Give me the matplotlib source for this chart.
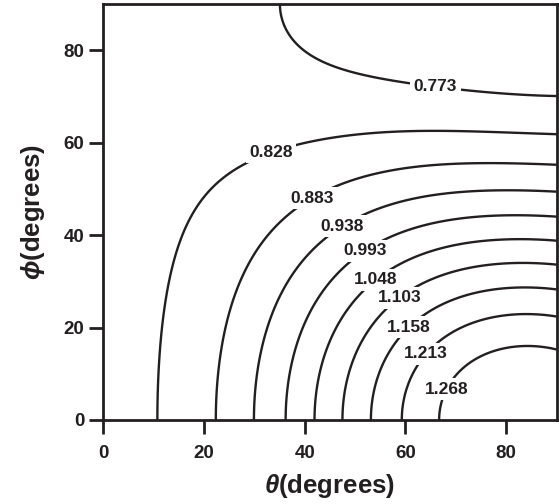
import numpy as np
import matplotlib
matplotlib.use("Agg")
import matplotlib.pyplot as plt

# ---- data (contour levels and points on each contour, degrees) ----
levels = [0.773, 0.828, 0.883, 0.938, 0.993, 1.048, 1.103, 1.158, 1.213, 1.268]

theta_0773 = [36.2, 36.6, 38.95, 42.3, 45.5, 52.1, 59.4, 71.2, 78.4, 90.0]
phi_0773 = [90.0, 86.5, 81.4, 78.6, 76.8, 74.4, 72.9, 71.4, 70.8, 70.1]

theta_0828 = [10.7, 11.0, 12.0, 13.6, 15.9, 20.5, 29.1, 38.95, 46.9, 52.1, 64.6, 90.0]
phi_0828 = [0.0, 10.8, 21.6, 32.4, 38.9, 48.3, 55.5, 59.5, 61.3, 61.6, 62.2, 61.8]

theta_0883 = [22.6, 22.8, 24.5, 27.1, 28.4, 30.4, 35.0, 39.6, 46.9, 58.0, 71.2, 90.0]
phi_0883 = [0.0, 10.8, 21.6, 30.3, 32.4, 36.8, 42.5, 45.8, 50.6, 54.4, 55.6, 55.1]

theta_0938 = [30.3, 30.5, 32.7, 37.0, 38.3, 40.3, 44.2, 53.4, 64.6, 77.8, 90.0]
phi_0938 = [0.0, 10.8, 21.6, 30.3, 32.4, 35.3, 38.9, 45.4, 49.0, 49.9, 49.5]

theta_0993 = [36.2, 36.5, 38.95, 44.9, 46.2, 48.8, 55.4, 64.6, 74.5, 90.0]
phi_0993 = [0.0, 10.8, 21.6, 29.9, 31.4, 33.9, 38.2, 42.5, 43.8, 44.0]

theta_1048 = [42.2, 43.2, 44.9, 46.9, 48.8, 51.5, 58.0, 67.9, 77.8, 90.0]
phi_1048 = [0.0, 10.8, 15.1, 19.5, 23.1, 27.4, 33.1, 37.5, 38.9, 38.9]

theta_1103 = [47.6, 48.8, 51.5, 54.1, 61.7, 64.6, 72.5, 84.4, 90.0]
phi_1103 = [0.0, 10.8, 18.0, 23.8, 28.8, 30.6, 32.4, 33.7, 33.6]

theta_1158 = [53.6, 54.7, 56.7, 59.0, 64.6, 71.2, 77.8, 90.0]
phi_1158 = [0.0, 10.8, 15.8, 18.0, 23.1, 26.3, 27.7, 28.3]

theta_1213 = [59.7, 60.3, 62.6, 65.9, 71.2, 77.8, 90.0]
phi_1213 = [0.0, 7.2, 11.5, 16.9, 20.9, 22.3, 22.7]

theta_1268 = [66.9, 67.6, 69.2, 73.2, 77.8, 83.0, 90.0]
phi_1268 = [0.0, 3.6, 8.6, 13.6, 15.3, 15.7, 15.1]

contour_points = [
    (theta_0773, phi_0773), (theta_0828, phi_0828), (theta_0883, phi_0883),
    (theta_0938, phi_0938), (theta_0993, phi_0993), (theta_1048, phi_1048),
    (theta_1103, phi_1103), (theta_1158, phi_1158), (theta_1213, phi_1213),
    (theta_1268, phi_1268),
]

xticks = [0, 20, 40, 60, 80]
yticks = [0, 20, 40, 60, 80]

# label anchor positions (layout)
label_pos = [(65.9, 71.5), (33.4, 57.8), (41.5, 47.9), (47.8, 41.4), (52.3, 36.0),
             (54.1, 30.3), (59.0, 26.1), (60.7, 20.0), (64.3, 14.1), (69.6, 5.9)]

# ---- build a smooth field through the read contour points ----
def basis(th_deg, ph_deg):
    t = np.radians(th_deg)
    p = np.radians(ph_deg)
    u = np.sin(t) ** 2 * np.cos(p) ** 2
    v = np.sin(t) ** 2 * np.sin(p) ** 2
    c = np.cos(t)
    return np.stack([np.ones_like(u), u, v, u * u, u * v, v * v,
                     u ** 3, u * u * v, u * v * v, v ** 3,
                     u * c, u * u * c], axis=-1)

th_all, ph_all, val_all = [], [], []
for lvl, (ths, phs) in zip(levels, contour_points):
    th_all += list(ths)
    ph_all += list(phs)
    val_all += [lvl] * len(ths)
A = basis(np.array(th_all), np.array(ph_all))
coef, *_ = np.linalg.lstsq(A, np.array(val_all), rcond=None)

th_grid = np.linspace(0, 90, 361)
ph_grid = np.linspace(0, 90, 361)
TH, PH = np.meshgrid(th_grid, ph_grid)
Z = basis(TH, PH) @ coef

# ---- plot ----
plt.rcParams["font.family"] = ["Liberation Sans", "DejaVu Sans"]
plt.rcParams["font.weight"] = "bold"
plt.rcParams["mathtext.fontset"] = "custom"
plt.rcParams["mathtext.it"] = "Liberation Sans:italic:bold"
plt.rcParams["mathtext.rm"] = "Liberation Sans:bold"

ink = "#231f20"
fig = plt.figure(figsize=(5.59, 5.04), dpi=100)
ax = fig.add_axes([103 / 559, 84 / 504, (556.7 - 103) / 559, (420 - 4) / 504])

cs = ax.contour(TH, PH, Z, levels=levels, colors=ink, linewidths=1.7, zorder=2)
texts = ax.clabel(cs, levels=levels, fmt={l: f"{l:.3f}" for l in levels}, manual=label_pos,
                  inline=False, fontsize=12.5, colors=ink)
for t in texts:
    t.set_rotation(0)
    t.set_bbox(dict(facecolor="white", edgecolor="none", pad=2.5))
    t.set_zorder(3)

ax.set_xlim(0, 90)
ax.set_ylim(0, 90)
ax.set_xticks(xticks)
ax.set_yticks(yticks)
ax.tick_params(direction="out", length=10, width=2, colors=ink, labelsize=13.5)
ax.tick_params(axis="x", pad=8)
ax.tick_params(axis="y", pad=3.5)
for s in ax.spines.values():
    s.set_linewidth(2)
    s.set_color(ink)
    s.set_zorder(4)

ax.set_xlabel(r"$\theta$(degrees)", fontsize=18.5, fontweight="bold", color=ink, labelpad=7)
ax.set_ylabel(r"$\phi$(degrees)", fontsize=18.5, fontweight="bold", color=ink, labelpad=12)

fig.savefig("out.png", dpi=100)
